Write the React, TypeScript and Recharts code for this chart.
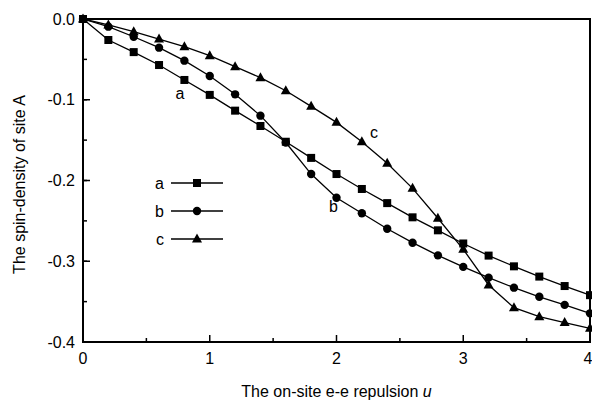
import React from 'react';
import { LineChart, Line, XAxis, YAxis, ReferenceDot, ReferenceArea, Legend } from 'recharts';

const uValues = [0, 0.2, 0.4, 0.6, 0.8, 1.0, 1.2, 1.4, 1.6, 1.8, 2.0, 2.2, 2.4, 2.6, 2.8, 3.0, 3.2, 3.4, 3.6, 3.8, 4.0];
const seriesA = [0, -0.026, -0.041, -0.057, -0.0755, -0.094, -0.1135, -0.1325, -0.152, -0.172, -0.192, -0.2105, -0.228, -0.2456, -0.2617, -0.278, -0.293, -0.3063, -0.319, -0.3307, -0.342];
const seriesB = [0, -0.0095, -0.022, -0.0355, -0.0516, -0.0706, -0.0933, -0.1197, -0.153, -0.192, -0.2213, -0.2406, -0.2597, -0.277, -0.2927, -0.307, -0.3203, -0.3327, -0.344, -0.354, -0.3645];
const seriesC = [0, -0.0074, -0.0157, -0.0248, -0.0343, -0.0454, -0.059, -0.0727, -0.0888, -0.1082, -0.128, -0.152, -0.1787, -0.2097, -0.2468, -0.2852, -0.3294, -0.3575, -0.3686, -0.376, -0.383];

const xMajorTicks = [0, 1, 2, 3, 4];
const xMinorTicks = [0.5, 1.5, 2.5, 3.5];
const yMajorTicks = [0, -0.1, -0.2, -0.3, -0.4];
const yMinorTicks = [-0.05, -0.15, -0.25, -0.35];
const yAllTicks = [...yMajorTicks, ...yMinorTicks].sort((p, q) => q - p);

const seriesNames = ['a', 'b', 'c'];
const curveLabels = [
  { name: 'a', u: 0.765, v: -0.0916 },
  { name: 'b', u: 1.975, v: -0.232 },
  { name: 'c', u: 2.296, v: -0.14 },
];

const xTitle = 'The on-site e-e repulsion ';
const xTitleItalic = 'u';
const yTitle = 'The spin-density of site A';

const data = uValues.map((u, i) => ({ u, a: seriesA[i], b: seriesB[i], c: seriesC[i] }));

const FONT = '"Liberation Sans", Arial, Helvetica, sans-serif';
const BLACK = '#000';

const squareShape = (cx: number, cy: number, k?: any) => (
  <rect key={k} x={cx - 4} y={cy - 4} width={8} height={8} fill={BLACK} />
);
const circleShape = (cx: number, cy: number, k?: any) => (
  <circle key={k} cx={cx} cy={cy} r={4.2} fill={BLACK} />
);
const triangleShape = (cx: number, cy: number, k?: any) => (
  <polygon key={k} points={`${cx},${cy - 5.5} ${cx - 5},${cy + 3.5} ${cx + 5},${cy + 3.5}`} fill={BLACK} />
);
const shapes = [squareShape, circleShape, triangleShape];

const makeDot = (fn: any) => (props: any) => {
  const { cx, cy, index } = props;
  if (cx == null || cy == null) return <g key={`e${index}`} />;
  return fn(cx, cy, `d${index}`);
};

const LegendContent = () => (
  <svg width={100} height={90}>
    {seriesNames.map((n, i) => {
      const y = 18 + i * 28;
      return (
        <g key={n}>
          <text x={24} y={y} textAnchor="end" dominantBaseline="central" fontFamily={FONT} fontSize={16} fill={BLACK}>
            {n}
          </text>
          <line x1={31} x2={83} y1={y} y2={y} stroke={BLACK} strokeWidth={1.3} />
          {shapes[i](57, y)}
        </g>
      );
    })}
  </svg>
);

const XTitle = (props: any) => {
  const vb = props.viewBox;
  return (
    <text x={vb.x + vb.width / 2} y={vb.y + 55} textAnchor="middle" fontFamily={FONT} fontSize={16} fill={BLACK}>
      {xTitle}
      <tspan fontStyle="italic">{xTitleItalic}</tspan>
    </text>
  );
};

const YTitle = (props: any) => {
  const vb = props.viewBox;
  const x = vb.x + 25;
  const y = vb.y + vb.height / 2 + 4;
  return (
    <text x={x} y={y} transform={`rotate(-90, ${x}, ${y})`} textAnchor="middle" fontFamily={FONT} fontSize={16} fill={BLACK}>
      {yTitle}
    </text>
  );
};

// Y tick: library draws 4px minor-length tick lines for all; majors get a longer line and a label.
// With tickSize -4 and tickMargin 12 the label anchor sits 8px left of the axis line.
const YTick = (props: any) => {
  const { x, y, payload } = props;
  const v = payload.value;
  const isMajor = yMajorTicks.some((m) => Math.abs(m - v) < 1e-9);
  if (!isMajor) return <g />;
  return (
    <g>
      <line x1={x + 8} x2={x + 15} y1={y} y2={y} stroke={BLACK} strokeWidth={1.5} />
      <text x={x} y={y} dy="0.355em" textAnchor="end" fontFamily={FONT} fontSize={16} fill={BLACK}>
        {v.toFixed(1)}
      </text>
    </g>
  );
};

const tickStyle = { fontFamily: FONT, fontSize: 16, fill: BLACK };
const emptyTick = { fontSize: 1, fill: 'none' };

export default function App() {
  return (
    <div style={{ position: 'absolute', left: 0, top: 0, width: 592, height: 402, background: '#fff' }}>
      <LineChart width={592} height={402} data={data} margin={{ top: 19, right: 2, left: 0, bottom: 0 }}>
        <XAxis
          xAxisId="x"
          dataKey="u"
          type="number"
          domain={[0, 4]}
          ticks={xMajorTicks}
          tickSize={-7}
          tickMargin={18}
          tick={tickStyle}
          axisLine={{ stroke: BLACK, strokeWidth: 2 }}
          tickLine={{ stroke: BLACK, strokeWidth: 1.5 }}
          height={60}
          label={<XTitle />}
        />
        <XAxis
          xAxisId="xm"
          dataKey="u"
          type="number"
          domain={[0, 4]}
          ticks={xMinorTicks}
          mirror
          tickSize={4}
          tick={emptyTick}
          tickFormatter={() => ''}
          axisLine={false}
          tickLine={{ stroke: BLACK, strokeWidth: 1.5 }}
          height={10}
        />
        <YAxis
          yAxisId="y"
          type="number"
          domain={[-0.4, 0]}
          ticks={yAllTicks}
          interval={0}
          tickSize={-4}
          tickMargin={12}
          tick={<YTick />}
          axisLine={{ stroke: BLACK, strokeWidth: 2 }}
          tickLine={{ stroke: BLACK, strokeWidth: 1.5 }}
          width={83}
          label={<YTitle />}
        />
        <ReferenceArea xAxisId="x" yAxisId="y" x1={0} x2={4} y1={-0.4} y2={0} fill="none" stroke={BLACK} strokeWidth={2} ifOverflow="visible" />
        {seriesNames.map((n, i) => (
          <Line
            key={n}
            xAxisId="x"
            yAxisId="y"
            dataKey={n}
            type="linear"
            stroke={BLACK}
            strokeWidth={1.3}
            dot={makeDot(shapes[i])}
            activeDot={false}
            isAnimationActive={false}
          />
        ))}
        {curveLabels.map((c) => (
          <ReferenceDot
            key={c.name}
            xAxisId="x"
            yAxisId="y"
            x={c.u}
            y={c.v}
            r={0}
            fill="none"
            stroke="none"
            label={{ value: c.name, position: 'center', fontFamily: FONT, fontSize: 16, fill: BLACK }}
          />
        ))}
        <Legend
          layout="horizontal"
          verticalAlign="middle"
          align="center"
          content={<LegendContent />}
          wrapperStyle={{ position: 'absolute', left: 140, top: 165, width: 100, height: 90 }}
        />
      </LineChart>
    </div>
  );
}
